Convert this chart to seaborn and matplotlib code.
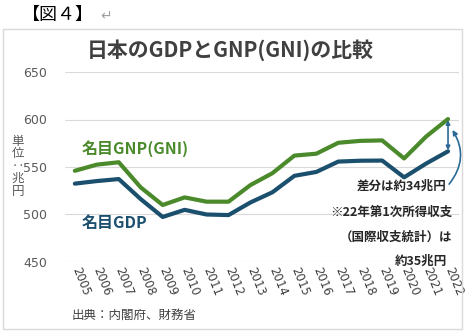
import matplotlib
matplotlib.use("Agg")
import matplotlib.pyplot as plt
import seaborn as sns
import pandas as pd
from matplotlib.patches import Rectangle

sns.set_theme(style="white")
plt.rcParams['font.family'] = ['Noto Sans CJK JP', 'DejaVu Sans']

years = list(range(2005, 2023))
gdp = [532.5, 535.2, 537.3, 516.2, 497.4, 504.9, 500.0, 499.4, 512.7, 523.4,
       540.7, 544.8, 555.7, 556.6, 556.8, 539.1, 553.6, 566.5]
gnp = [546.0, 552.5, 555.0, 528.5, 510.0, 518.0, 513.5, 513.5, 531.0, 543.5,
       562.0, 564.0, 575.5, 577.5, 578.0, 559.0, 582.0, 600.5]
series_names = ["名目GDP", "名目GNP(GNI)"]
ytick_vals = [450, 500, 550, 600, 650]

GREEN = "#4B8A2B"
BLUE = "#1B4F6E"
ARROW = "#2A6A96"

df = pd.DataFrame({
    "year": years * 2,
    "value": gdp + gnp,
    "series": [series_names[0]] * len(years) + [series_names[1]] * len(years),
})

W, H = 470, 332
fig = plt.figure(figsize=(W / 100, H / 100), dpi=100)
fig.patch.set_facecolor("white")

# chart border
fig.patches.append(Rectangle((3 / W, 3 / H), 459 / W, 300 / H, transform=fig.transFigure,
                             fill=False, edgecolor="#d9d9d9", linewidth=1.0))

ax = fig.add_axes([65 / W, 70 / H, 394 / W, 190 / H])
sns.lineplot(data=df, x="year", y="value", hue="series",
             palette={series_names[0]: BLUE, series_names[1]: GREEN},
             linewidth=3.0, legend=False, ax=ax)
ax.set_xlim(2004.55, 2022.5)
ax.set_ylim(450, 650)
ax.set_yticks(ytick_vals)
ax.set_yticklabels([str(v) for v in ytick_vals], fontsize=9, color="#595959",
                   family=['DejaVu Sans'])
ax.set_xticks(years)
ax.set_xticklabels([str(y) for y in years], fontsize=8.5, color="#404040",
                   rotation=-68, ha="left", va="center", rotation_mode="anchor",
                   family=['DejaVu Sans'])
ax.tick_params(axis="y", length=0, pad=13)
ax.tick_params(axis="x", length=0, pad=4)
for s in ax.spines.values():
    s.set_visible(False)
ax.grid(axis="y", color="#d9d9d9", linewidth=0.8)
ax.set_axisbelow(True)
ax.set_xlabel("")
ax.set_ylabel("")

# line labels
ax.text(2005.3, 569, "名目GNP(GNI)", color=GREEN, fontsize=11.5, fontweight="bold",
        ha="left", va="center")
ax.text(2005.3, 491, "名目GDP", color=BLUE, fontsize=11.5, fontweight="bold",
        ha="left", va="center")

# difference arrow
ax.annotate("", xy=(2022, gnp[-1] - 1), xytext=(2022, gdp[-1] + 1),
            arrowprops=dict(arrowstyle="<|-|>", color=ARROW, lw=1.2,
                            mutation_scale=6, shrinkA=0, shrinkB=0))
ax.annotate("", xy=(2022.2, 589), xytext=(2022.05, 532),
            arrowprops=dict(arrowstyle="-|>", color=ARROW, lw=1.2, mutation_scale=7,
                            connectionstyle="arc3,rad=0.35", shrinkA=0, shrinkB=0),
            annotation_clip=False)

ax.text(2021.95, 530, "差分は約34兆円", fontsize=9, fontweight="bold", color="#262626",
        ha="right", va="center")
ax.text(2022.2, 502.5, "※22年第1次所得収支", fontsize=9, fontweight="bold", color="#262626",
        ha="right", va="center")
ax.text(2022.2, 476, "（国際収支統計）は", fontsize=9, fontweight="bold", color="#262626",
        ha="right", va="center")
ax.text(2021.95, 450.5, "約35兆円", fontsize=9, fontweight="bold", color="#262626",
        ha="right", va="center")

# title and other texts
fig.text(230 / W, 1 - 50 / H, "日本のGDPとGNP(GNI)の比較", fontsize=15, fontweight="bold",
         color="#404040", ha="center", va="center")
fig.text(18 / W, 1 - 166 / H, "単\n位\n‥\n兆\n円", fontsize=9, color="#595959",
         ha="center", va="center", linespacing=0.95)
fig.text(72 / W, 1 - 315 / H, "出典：内閣府、財務省", fontsize=9, color="#404040",
         ha="left", va="center")
fig.text(22 / W, 1 - 15 / H, "【図４】", fontsize=13, color="#000000",
         ha="left", va="center")
fig.text(100 / W, 1 - 16 / H, "↵", fontsize=10, color="#a0a0a0",
         ha="left", va="center", family=['DejaVu Sans'])

fig.savefig("out.png", dpi=100)
